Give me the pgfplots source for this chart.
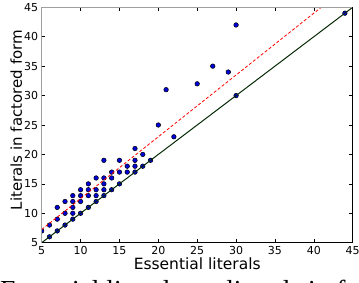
\documentclass[border=0pt]{standalone}
\usepackage{pgfplots}
\pgfplotsset{compat=1.18}
\usepackage{fontspec}
\setmainfont{DejaVu Sans}
\newfontfamily\capfont{Liberation Serif}
\definecolor{markblue}{rgb}{0,0,0.85}
\definecolor{diaggreen}{rgb}{0.02,0.16,0.02}
\begin{document}
\begin{tikzpicture}[x=1pt,y=1pt]
\useasboundingbox (0,0) rectangle (359,282);
\clip (0,0) rectangle (359,282);
\begin{axis}[
  name=ax,
  at={(41.7pt,39.3pt)}, anchor=south west,
  scale only axis, width=311pt, height=235.4pt,
  xmin=5, xmax=45, ymin=5, ymax=45,
  xtick={5,10,...,45}, ytick={5,10,...,45},
  tick align=inside, major tick length=3.5pt,
  tick style={black, line width=0.5pt},
  axis line style={draw=none},
  /pgf/number format/assume math mode=true,
  ticklabel style={font=\fontsize{11}{12}\selectfont},
  xlabel={Essential literals},
  ylabel={Literals in factored form},
  every axis x label/.style={at={([yshift=-26.6pt]axis description cs:0.5,0)}, anchor=base, font=\fontsize{15.5}{18}\selectfont, inner sep=0pt},
  every axis y label/.style={at={([xshift=-19.7pt]axis description cs:0,0.521)}, anchor=base, rotate=90, font=\fontsize{15}{18}\selectfont, inner sep=0pt},
  clip marker paths=true,
]
\addplot[only marks, mark=*, mark size=2.3pt, mark options={fill=markblue, draw=black, line width=0.5pt}] coordinates {
(5,7)(6,6)(6,8)(7,7)(7,9)(7,11)(8,8)(8,10)(8,12)(9,9)(9,10)(9,11)(9,12)(9,13)
(10,10)(10,12)(10,13)(10,14)(11,11)(11,13)(11,14)(11,15)(12,12)(12,13)(12,14)(12,16)
(13,13)(13,14)(13,15)(13,16)(13,19)(14,14)(14,16)(14,17)(15,15)(15,17)(15,19)
(16,17)(16,18)(17,17)(17,18)(17,19)(17,21)(18,18)(18,20)(19,19)
(20,25)(21,31)(22,23)(25,32)(27,35)(29,34)(30,30)(30,42)(44,44)
};
\addplot[diaggreen, line width=1pt] coordinates {(5,5)(45,45)};
\addplot[red, line width=0.8pt, dash pattern=on 3pt off 2pt] coordinates {(5,7.25)(45,49.25)};
\end{axis}
\draw[gray!75, line width=1.3pt] (ax.south west) -- (ax.north west) -- (ax.north east);
\draw[black, line width=0.8pt] (ax.south west) -- (ax.south east) -- (ax.north east);
\node[anchor=base west, inner sep=0pt, font=\capfont\fontsize{27.5}{30}\selectfont] at (0,-17) {Essential literals vs.\ literals in factored form};
\end{tikzpicture}
\end{document}
